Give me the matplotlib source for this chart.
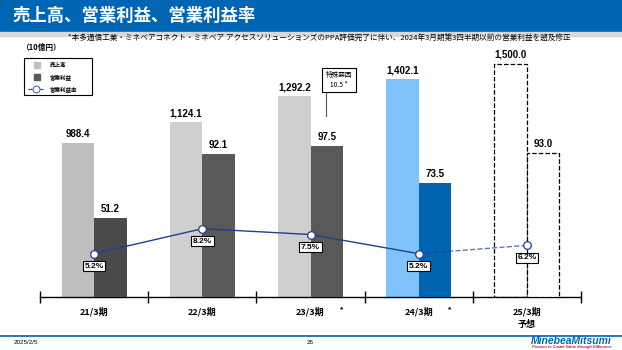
import numpy as np
import matplotlib.pyplot as plt
from matplotlib.patches import Rectangle
from matplotlib.lines import Line2D

plt.rcParams['font.family'] = ['Liberation Sans', 'Noto Sans CJK JP', 'DejaVu Sans']

# datos
periodos = ['21/3期', '22/3期', '23/3期', '24/3期', '25/3期\n予想']
ventas = [988.4, 1124.1, 1292.2, 1402.1, 1500.0]
utilidad = [51.2, 92.1, 97.5, 73.5, 93.0]
margen = [5.2, 8.2, 7.5, 5.2, 6.2]
etiq_ventas = ['988.4', '1,124.1', '1,292.2', '1,402.1', '1,500.0']
etiq_util = ['51.2', '92.1', '97.5', '73.5', '93.0']
etiq_margen = ['5.2%', '8.2%', '7.5%', '5.2%', '6.2%']

col_ventas = ['#BFBFBF', '#D0CFD0', '#CFCECF', '#7FC3FA']
col_util = ['#4A4A4A', '#595959', '#595959', '#0064B0']
azul = '#0066B3'

W, H = 622, 350
fig = plt.figure(figsize=(W / 100, H / 100), dpi=100)

def fy(y):
    return 1 - y / H

# barra de titulo
fig.patches.append(Rectangle((0, fy(32)), 1, 32 / H, transform=fig.transFigure, color=azul, zorder=0))
fig.patches.append(Rectangle((0, fy(36)), 1, 4 / H, transform=fig.transFigure, color='#D9D9D9', zorder=0))
fig.text(12 / W, fy(16), '売上高、営業利益、営業利益率', color='white', fontsize=12.5, fontweight='bold',
         va='center', ha='left', family=['Noto Sans CJK JP'])

fig.text(68 / W, fy(39), '*本多通信工業・ミネベアコネクト・ミネベア アクセスソリューションズのPPA評価完了に伴い、2024年3月期第3四半期以前の営業利益を遡及修正',
         fontsize=5.5, va='center', ha='left', family=['Noto Sans CJK JP'])
fig.text(22 / W, fy(47), '（10億円）', fontsize=5.5, fontweight='bold', va='center', ha='left',
         family=['Noto Sans CJK JP'])

# ejes
x0, x1, yb, yt = 40, 581, 297, 60
ax = fig.add_axes([x0 / W, 1 - yb / H, (x1 - x0) / W, (yb - yt) / H])
ax2 = ax.twinx()
ax3 = ax.twinx()
ax.set_ylim(0, 1500 * (yb - yt) / 233)
ax2.set_ylim(0, 93 * (yb - yt) / 144)
ax3.set_ylim(0, (yb - yt) / 8.33)
ax.set_xlim(-0.5, 4.5)
for a in (ax, ax2, ax3):
    for s in ['top', 'left', 'right']:
        a.spines[s].set_visible(False)
    a.set_yticks([])
ax2.spines['bottom'].set_visible(False)
ax3.spines['bottom'].set_visible(False)
ax.patch.set_visible(False)

x = np.arange(len(periodos))
w = 0.3
ax.bar(x[:4] - w / 2, ventas[:4], w, color=col_ventas, zorder=1)
ax2.bar(x[:4] + w / 2, utilidad[:4], w, color=col_util, zorder=1)
ax.bar(x[4] - w / 2, ventas[4], w, facecolor='white', edgecolor='black', linestyle='--', linewidth=0.9)
ax2.bar(x[4] + w / 2, utilidad[4], w, facecolor='white', edgecolor='black', linestyle='--', linewidth=0.9)

for i in range(5):
    ax.annotate(etiq_ventas[i], (x[i] - w / 2, ventas[i]), xytext=(0, 3), textcoords='offset points',
                ha='center', va='bottom', fontsize=7, fontweight='bold')
    ax2.annotate(etiq_util[i], (x[i] + w / 2, utilidad[i]), xytext=(0, 3), textcoords='offset points',
                 ha='center', va='bottom', fontsize=7, fontweight='bold')

# margen
col_linea = '#1F3F8F'
ax3.plot(x[:4], margen[:4], color=col_linea, lw=1)
ax3.plot(x[3:], margen[3:], color=col_linea, lw=1, ls='--', alpha=0.7)
ax3.plot(x, margen, 'o', ms=5.5, mfc='white', mec=col_linea, mew=0.9, zorder=5)
for i in range(5):
    ax3.annotate(etiq_margen[i], (x[i], margen[i]), xytext=(0, -6.5), textcoords='offset points',
                 ha='center', va='top', fontsize=6, fontweight='bold',
                 bbox=dict(boxstyle='square,pad=0.2', fc='white', ec='black', lw=0.8), zorder=6)

# callout 特殊要因
ax2.plot([2.143, 2.143], [116.8, 132.3], color='#555555', lw=0.8)
ax2.text(2.263, 140, '特殊要因\n10.5 *', ha='center', va='center', fontsize=4.8,
         family=['Noto Sans CJK JP'], linespacing=1.3,
         bbox=dict(boxstyle='square,pad=0.5', fc='white', ec='black', lw=0.8))

# eje x
ax.set_xticks(np.arange(-0.5, 5, 1))
ax.set_xticklabels([])
ax.tick_params(axis='x', which='major', direction='inout', length=8, width=1)
ax.set_xticks(x, minor=True)
ax.set_xticklabels(periodos, minor=True, fontsize=6.5, fontweight='bold', family=['Noto Sans CJK JP'],
                   linespacing=1.6, va='top')
ax.tick_params(axis='x', which='minor', length=0, pad=7)
ax.spines['bottom'].set_linewidth(1)
for i in [2, 3]:
    ax.annotate('*', (x[i], 0), xytext=(22.5, -9), textcoords='offset points', ha='center', va='center',
                fontsize=6, fontweight='bold')

# leyenda
fig.patches.append(Rectangle((24 / W, fy(95)), 68 / W, 37 / H, transform=fig.transFigure,
                             fill=False, ec='black', lw=0.8))
fig.patches.append(Rectangle((34 / W, fy(68)), 6 / W, 6 / H, transform=fig.transFigure, color='#BFBFBF'))
fig.patches.append(Rectangle((34 / W, fy(80)), 6 / W, 6 / H, transform=fig.transFigure, color='#595959'))
fig.lines.append(Line2D([28 / W, 43 / W], [fy(89), fy(89)], transform=fig.transFigure, color=col_linea,
                        lw=0.8, ls='--'))
fig.lines.append(Line2D([36 / W], [fy(89)], transform=fig.transFigure, marker='o', ms=5, mfc='white',
                        mec=col_linea, mew=0.6))
for yy, t in zip([65, 77, 89], ['売上高', '営業利益', '営業利益率']):
    fig.text(50 / W, fy(yy), t, fontsize=4, fontweight='bold', va='center', family=['Noto Sans CJK JP'])

# pie de pagina
fig.lines.append(Line2D([0, 1], [fy(336), fy(336)], transform=fig.transFigure, color=azul, lw=1.2))
fig.text(14 / W, fy(343), '2025/2/5', fontsize=4.5, va='center')
fig.text(310 / W, fy(343), '26', fontsize=4.5, va='center', ha='center')
fig.text(612 / W, fy(341), 'MinebeaMitsumi', fontsize=7.5, fontweight='bold', style='italic', color=azul,
         ha='right', va='center')
fig.text(612 / W, fy(347), 'Passion to Create Value through Difference', fontsize=2.8, fontweight='bold',
         style='italic', color='#C8102E', ha='right', va='center')

plt.savefig('out.png', dpi=100)
plt.close()
